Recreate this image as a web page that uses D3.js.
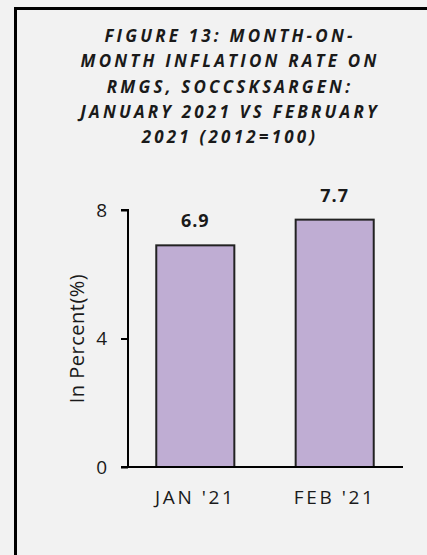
<!DOCTYPE html>
<html>
<head>
<meta charset="utf-8">
<script src="https://cdn.jsdelivr.net/npm/d3@7"></script>
<style>
  html, body { margin: 0; padding: 0; background: #f2f2f2; }
  svg { display: block; }
</style>
</head>
<body>
<script>
// Month-on-month inflation rate on RMGs, SOCCSKSARGEN
const categories = ["JAN '21", "FEB '21"];
const values = [6.9, 7.7];
const yTicks = [0, 4, 8];
const titleLines = [
  "FIGURE 13: MONTH-ON-",
  "MONTH INFLATION RATE ON",
  "RMGS, SOCCSKSARGEN:",
  "JANUARY 2021 VS FEBRUARY",
  "2021 (2012=100)"
];
const yLabel = "In Percent(%)";

const W = 427, H = 555;
const font = "'Open Sans', 'Liberation Sans', sans-serif";

const svg = d3.select("body").append("svg")
  .attr("width", W).attr("height", H);

svg.append("rect").attr("width", W).attr("height", H).attr("fill", "#f2f2f2");

// frame around the figure
svg.append("rect")
  .attr("x", 15.5).attr("y", 8.5)
  .attr("width", W + 20).attr("height", H + 20)
  .attr("fill", "none").attr("stroke", "#000").attr("stroke-width", 3);

// title
svg.append("g").selectAll("text").data(titleLines).join("text")
  .attr("x", 230)
  .attr("y", (d, i) => 42 + i * 25.3)
  .attr("text-anchor", "middle")
  .attr("font-family", font)
  .attr("font-size", 17)
  .attr("font-weight", "bold")
  .attr("font-style", "italic")
  .attr("letter-spacing", 3.2)
  .attr("fill", "#1a1a1a")
  .text(d => d);

const x = d3.scaleBand().domain(categories).range([127, 403]).paddingInner(0.44).paddingOuter(0.21);
const y = d3.scaleLinear().domain([0, 8]).range([467, 210]);

// bars
svg.append("g").selectAll("rect").data(values).join("rect")
  .attr("x", (d, i) => x(categories[i]))
  .attr("y", d => y(d))
  .attr("width", x.bandwidth())
  .attr("height", d => y(0) - y(d))
  .attr("fill", "#bfadd3")
  .attr("stroke", "#222")
  .attr("stroke-width", 2);

// value labels
svg.append("g").selectAll("text").data(values).join("text")
  .attr("x", (d, i) => x(categories[i]) + x.bandwidth() / 2)
  .attr("y", d => y(d) - 18)
  .attr("text-anchor", "middle")
  .attr("font-family", font)
  .attr("font-size", 18)
  .attr("font-weight", "bold")
  .attr("letter-spacing", 1)
  .attr("fill", "#1a1a1a")
  .text(d => d.toFixed(1));

// y axis
const yAxis = svg.append("g")
  .attr("transform", "translate(128,0)")
  .call(d3.axisLeft(y).tickValues(yTicks).tickSize(7).tickPadding(14).tickFormat(d3.format("d")));
yAxis.select(".domain").attr("stroke", "#000").attr("stroke-width", 2).attr("d", `M-7,${y(8)}H0V${y(0)}`);
yAxis.selectAll(".tick line").attr("stroke", "#000").attr("stroke-width", 2);
yAxis.selectAll(".tick text")
  .attr("font-family", font).attr("font-size", 19).attr("fill", "#1a1a1a");

// baseline
svg.append("line")
  .attr("x1", 121).attr("x2", 403)
  .attr("y1", y(0)).attr("y2", y(0))
  .attr("stroke", "#000").attr("stroke-width", 2);

// category labels
svg.append("g").selectAll("text").data(categories).join("text")
  .attr("x", d => x(d) + x.bandwidth() / 2)
  .attr("y", 504)
  .attr("text-anchor", "middle")
  .attr("font-family", font)
  .attr("font-size", 19)
  .attr("letter-spacing", 2.6)
  .attr("fill", "#1a1a1a")
  .text(d => d);

// y axis title
svg.append("text")
  .attr("transform", `translate(84,${(y(0) + y(8)) / 2}) rotate(-90)`)
  .attr("text-anchor", "middle")
  .attr("font-family", font)
  .attr("font-size", 20)
  .attr("letter-spacing", 0.5)
  .attr("fill", "#1a1a1a")
  .text(yLabel);
</script>
</body>
</html>
